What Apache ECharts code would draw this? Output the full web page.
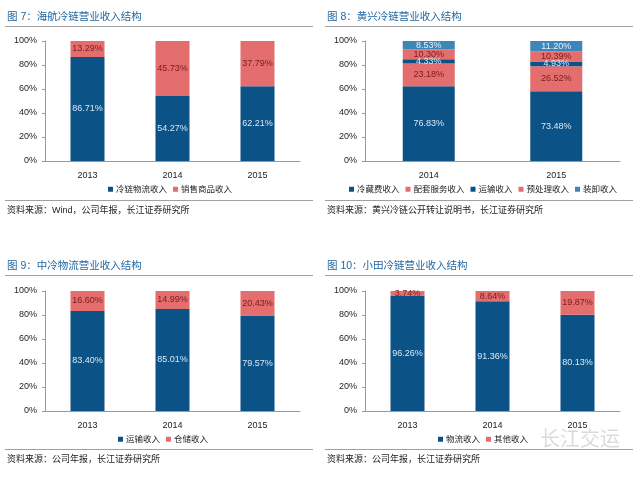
<!DOCTYPE html>
<html>
<head>
<meta charset="utf-8">
<script src="https://cdn.jsdelivr.net/npm/echarts@6/dist/echarts.min.js"></script>
<style>
  html, body { margin: 0; padding: 0; background: #fff; }
  #main { width: 640px; height: 477px; }
</style>
</head>
<body>
<div id="main"></div>
<script>
// 图7 海航冷链
var years7 = ['2013', '2014', '2015'];
var hhLogistics = [86.71, 54.27, 62.21];
var hhSales = [13.29, 45.73, 37.79];

// 图8 黄兴冷链 (标签数值之和不为100，按比例堆叠)
var years8 = ['2014', '2015'];
var hxCold = [76.83, 73.48];
var hxSupport = [23.18, 26.52];
var hxTransport = [4.33, 4.93];
var hxPre = [10.30, 10.39];
var hxLoad = [8.53, 11.20];

// 图9 中冷物流
var years9 = ['2013', '2014', '2015'];
var zlTransport = [83.40, 85.01, 79.57];
var zlStorage = [16.60, 14.99, 20.43];

// 图10 小田冷链
var years10 = ['2013', '2014', '2015'];
var xtLogistics = [96.26, 91.36, 80.13];
var xtOther = [3.74, 8.64, 19.87];

var DARK = '#0b5286';
var PINK = '#e46d6e';
var LIGHT = '#3d87b8';
var FONT = 'Liberation Sans, Noto Sans CJK SC, sans-serif';

var myChart = echarts.init(document.getElementById('main'));

function grid(left, top) {
    return { left: left, top: top, width: 255, height: 120 };
}
function xAxis(idx, data) {
    return {
        type: 'category', gridIndex: idx, data: data,
        axisLine: { lineStyle: { color: '#999' } },
        axisTick: { alignWithLabel: false, length: 3, lineStyle: { color: '#999' } },
        axisLabel: { color: '#222', fontSize: 9, margin: 10, fontFamily: FONT }
    };
}
function yAxis(idx) {
    return {
        type: 'value', gridIndex: idx, min: 0, max: 100, interval: 20,
        axisLine: { show: true, lineStyle: { color: '#999' } },
        axisTick: { show: true, length: 3, lineStyle: { color: '#999' } },
        splitLine: { show: false },
        axisLabel: { formatter: '{value}%', color: '#222', fontSize: 9, margin: 8, fontFamily: FONT }
    };
}
function bar(name, idx, stack, values, raw, color, labelColor, width) {
    return {
        name: name, type: 'bar', xAxisIndex: idx, yAxisIndex: idx, stack: stack,
        barWidth: width, data: values,
        itemStyle: { color: color },
        label: {
            show: true, position: 'inside', fontSize: 9, color: labelColor, fontFamily: FONT,
            formatter: function (p) { return raw[p.dataIndex].toFixed(2) + '%'; }
        }
    };
}
// 按比例换算为100%堆叠
function share(arr, all) {
    return arr.map(function (v, i) {
        var sum = 0;
        all.forEach(function (a) { sum += a[i]; });
        return v / sum * 100;
    });
}
var hxAll = [hxCold, hxSupport, hxTransport, hxPre, hxLoad];

function legend(left, top, names) {
    return {
        left: left, top: top, padding: 0, itemGap: 6, itemWidth: 5, itemHeight: 5,
        icon: 'rect', data: names,
        textStyle: { fontSize: 8.5, color: '#222', fontFamily: FONT, padding: [0, 0, 0, -2] }
    };
}
function title(x, y, text) {
    return { type: 'text', left: x, top: y, style: { text: text, fill: '#2167a3', font: '10.5px ' + FONT } };
}
function hline(x1, x2, y) {
    return { type: 'line', shape: { x1: x1, y1: y, x2: x2, y2: y }, style: { stroke: '#a0a0a0', lineWidth: 1 } };
}
function source(x, y, text) {
    return { type: 'text', left: x, top: y, style: { text: text, fill: '#222', font: '9px ' + FONT } };
}

option = {
    animation: false,
    grid: [grid(45, 41), grid(365, 41), grid(45, 291), grid(365, 291)],
    xAxis: [xAxis(0, years7), xAxis(1, years8), xAxis(2, years9), xAxis(3, years10)],
    yAxis: [yAxis(0), yAxis(1), yAxis(2), yAxis(3)],
    legend: [
        legend(108, 185, ['冷链物流收入', '销售商品收入']),
        legend(349, 185, ['冷藏费收入', '配套服务收入', '运输收入', '预处理收入', '装卸收入']),
        legend(118, 435, ['运输收入', '仓储收入']),
        legend(118 + 320, 435, ['物流收入', '其他收入'])
    ],
    graphic: [
        title(7, 12, '图 7：海航冷链营业收入结构'),
        title(327, 12, '图 8：黄兴冷链营业收入结构'),
        title(7, 261, '图 9：中冷物流营业收入结构'),
        title(327, 261, '图 10：小田冷链营业收入结构'),
        hline(5, 313, 26.5), hline(325, 633, 26.5),
        hline(5, 313, 275.5), hline(325, 633, 275.5),
        hline(5, 313, 200.5), hline(325, 633, 200.5),
        hline(5, 313, 449.5), hline(325, 633, 449.5),
        source(7, 206, '资料来源：Wind，公司年报，长江证券研究所'),
        source(327, 206, '资料来源：黄兴冷链公开转让说明书，长江证券研究所'),
        source(7, 455, '资料来源：公司年报，长江证券研究所'),
        source(327, 455, '资料来源：公司年报，长江证券研究所'),
        { type: 'text', left: 540, top: 428, style: { text: '长江交运', fill: 'rgba(150,150,150,0.35)', font: '20px Noto Sans CJK SC' } }
    ],
    series: [
        bar('冷链物流收入', 0, 'a', hhLogistics, hhLogistics, DARK, '#d8e8f5', 34),
        bar('销售商品收入', 0, 'a', hhSales, hhSales, PINK, '#7a1c1c', 34),

        bar('冷藏费收入', 1, 'b', share(hxCold, hxAll), hxCold, DARK, '#d8e8f5', 52),
        bar('配套服务收入', 1, 'b', share(hxSupport, hxAll), hxSupport, PINK, '#7a1c1c', 52),
        bar('运输收入', 1, 'b', share(hxTransport, hxAll), hxTransport, DARK, '#d8e8f5', 52),
        bar('预处理收入', 1, 'b', share(hxPre, hxAll), hxPre, PINK, '#7a1c1c', 52),
        bar('装卸收入', 1, 'b', share(hxLoad, hxAll), hxLoad, LIGHT, '#e6f0f8', 52),

        bar('运输收入', 2, 'c', zlTransport, zlTransport, DARK, '#d8e8f5', 34),
        bar('仓储收入', 2, 'c', zlStorage, zlStorage, PINK, '#7a1c1c', 34),

        bar('物流收入', 3, 'd', xtLogistics, xtLogistics, DARK, '#d8e8f5', 34),
        bar('其他收入', 3, 'd', xtOther, xtOther, PINK, '#7a1c1c', 34)
    ]
};
myChart.setOption(option);
</script>
</body>
</html>
